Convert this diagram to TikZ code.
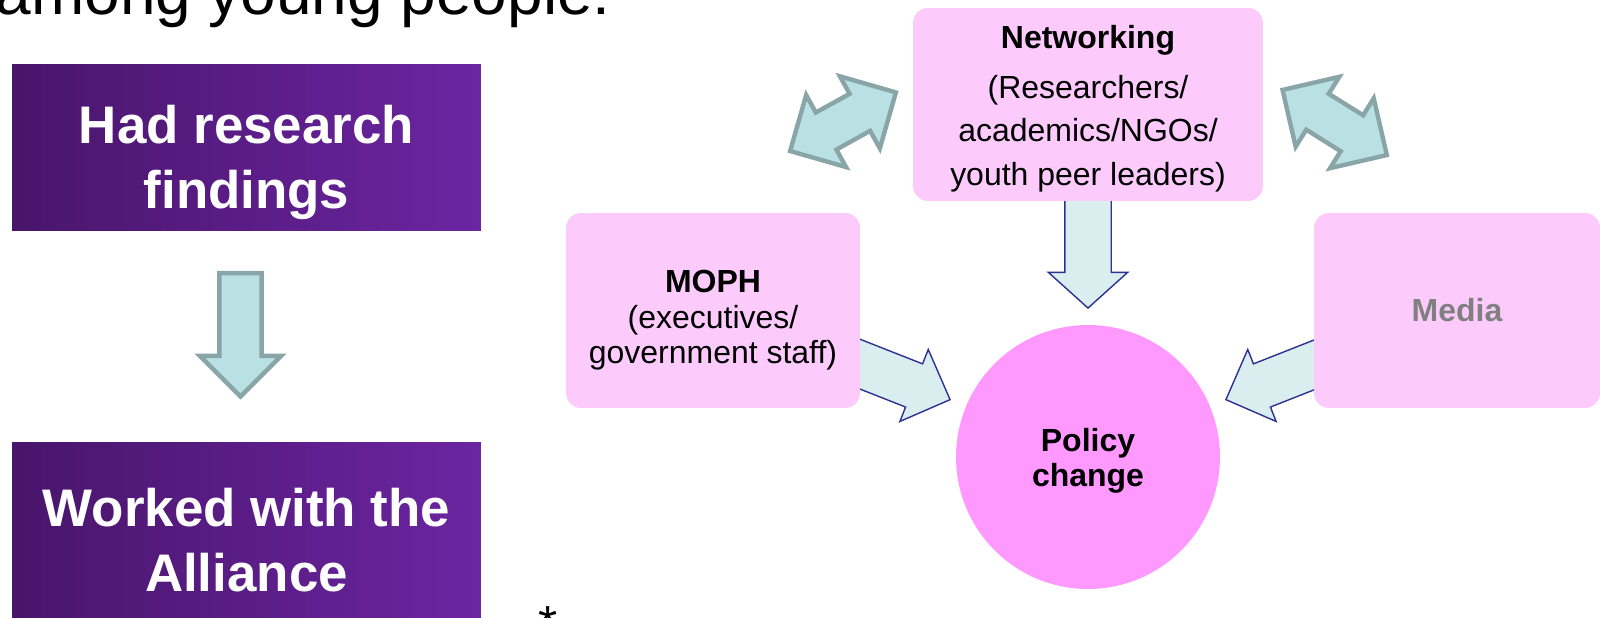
\documentclass[tikz,border=0pt]{standalone}
\usepackage{fontspec}
\setmainfont{Liberation Sans}
\usetikzlibrary{shapes.arrows,positioning,calc}
\definecolor{purpdark}{HTML}{48156A}
\definecolor{purplight}{HTML}{6C25A2}
\definecolor{pinkbox}{HTML}{FCCBFC}
\definecolor{pinkcircle}{HTML}{FF99FF}
\definecolor{tealfill}{HTML}{B9E0E3}
\definecolor{tealline}{HTML}{8AA5A8}
\definecolor{palefill}{HTML}{DAEEF0}
\definecolor{navyline}{HTML}{2E3192}
\definecolor{mediagray}{HTML}{808080}
\def\pixel{0.02cm}

\begin{document}
\begin{tikzpicture}[x=\pixel,y=-\pixel]
      \tikzstyle{purple box}=[rectangle,left color=purpdark,right color=purplight,minimum width=9.38cm]
      \tikzstyle{purple text}=[text=white,align=center,font=\bfseries\fontsize{30.1pt}{36.7pt}\selectfont]
      \tikzstyle{pink box}=[rectangle,rounded corners=0.3cm,fill=pinkbox,minimum height=3.9cm]
      \tikzstyle{pink text}=[align=center,font=\fontsize{18.2pt}{20.2pt}\selectfont]
      \tikzstyle{teal arrow}=[fill=tealfill,draw=tealline,line width=2.5pt,inner xsep=0pt]
      \tikzstyle{navy arrow}=[single arrow,anchor=tip,fill=palefill,draw=navyline,line width=0.8pt,inner xsep=0pt,inner ysep=0.45cm,single arrow tip angle=90]

      \useasboundingbox (0,0) rectangle (1600,618);
      \clip (0,0) rectangle (1600,618);

      % Heading line, cut off at the top
      \node[anchor=base east,font=\fontsize{36.4pt}{40pt}\selectfont] (title) at (617,15) {among young people:};

      % Left column
      \node[purple box,minimum height=3.34cm] (findings) at (246.5,147.5) {};
      \node[purple text] (findings-txt) at ($(findings.center)+(0,15)$) {Had research\\findings};
      \node[purple box,minimum height=3.76cm] (alliance) at (246.5,536) {};
      \node[purple text] (alliance-txt) at ($(alliance.center)+(0,4)$) {Worked with the\\Alliance};
      \coordinate (down-tip) at ($(alliance.north)+(-6,-42)$);
      \node[teal arrow,single arrow,anchor=tip,rotate=-90,minimum height=2.47cm,inner ysep=0.38cm,
            single arrow head extend=0.39cm,single arrow tip angle=90] (down) at (down-tip) {};

      % Arrows into the circle (tails sit behind the boxes)
      \node[navy arrow,rotate=-90,minimum height=2.38cm,
            single arrow head extend=0.33cm,single arrow tip angle=96] (arr-net) at (1088,309) {};
      \node[navy arrow,rotate=-21.5,minimum height=2.34cm,
            single arrow head extend=0.31cm] (arr-moph) at (951,400) {};
      \node[navy arrow,rotate=201.5,minimum height=2.34cm,
            single arrow head extend=0.31cm] (arr-media) at (1225,400) {};

      % Two-way links beside the networking box
      \node[teal arrow,double arrow,rotate=29,minimum height=2.42cm,inner ysep=0.38cm,
            double arrow head extend=0.4cm,double arrow tip angle=90] (link-left) at (843,121.7) {};
      \node[teal arrow,double arrow,rotate=-32,minimum height=2.46cm,inner ysep=0.38cm,
            double arrow head extend=0.4cm,double arrow tip angle=90] (link-right) at (1334.7,122.5) {};

      % Actors
      \node[pink box,minimum width=7cm,minimum height=3.86cm] (net) at (1088,104.5) {};
      \node[pink text,font=\fontsize{18.2pt}{24.75pt}\selectfont] (net-txt) at ($(net.center)+(0,4)$)
            {{\bfseries Networking}\\[3.7pt](Researchers/\\academics/NGOs/\\youth peer leaders)};
      \node[pink box,minimum width=5.88cm] (moph) at (713,310.5) {};
      \node[pink text] (moph-txt) at ($(moph.center)+(0,10)$) {{\bfseries MOPH}\\(executives/\\government staff)};
      \node[pink box,minimum width=5.72cm] (media) at (1457,310.5) {};
      \node[pink text,text=mediagray,font=\bfseries\fontsize{18.2pt}{20.2pt}\selectfont] (media-txt) at (media.center) {Media};
      \node[circle,fill=pinkcircle,minimum size=5.28cm] (policy) at (1088,457) {};
      \node[align=center,font=\bfseries\fontsize{18.2pt}{19.6pt}\selectfont] (policy-txt) at ($(policy.center)+(0,4)$) {Policy\\change};

      % Footnote mark, cut off at the bottom
      \node[anchor=base west,inner sep=0pt,font=\fontsize{28pt}{30pt}\selectfont] (note) at (538,640) {*};
\end{tikzpicture}
\end{document}
